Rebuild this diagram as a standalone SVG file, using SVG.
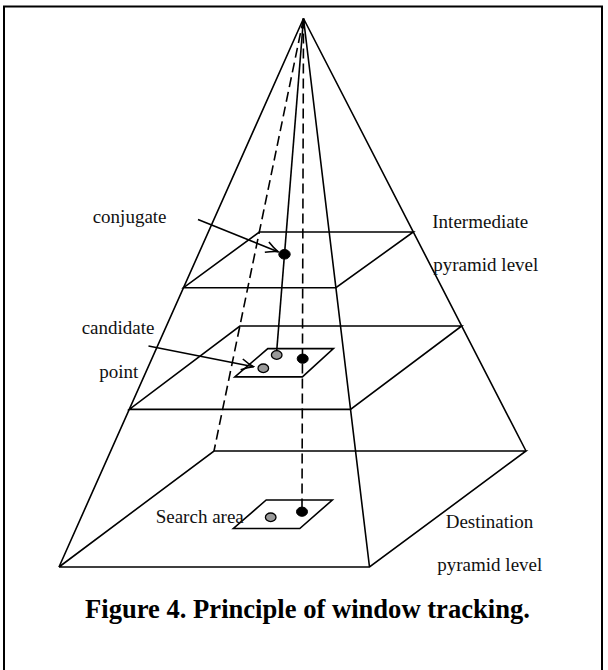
<svg xmlns="http://www.w3.org/2000/svg" width="608" height="670" viewBox="0 0 608 670">
<style>
.ln{fill:none;stroke:#000;stroke-width:1.6;stroke-linejoin:miter}
.dash{fill:none;stroke:#000;stroke-width:1.6;stroke-dasharray:10 5}
.txt{font-family:"Liberation Serif","Times New Roman",serif;font-size:19px;fill:#111}
.ttl{font-family:"Liberation Serif","Times New Roman",serif;font-size:26.6px;font-weight:bold;fill:#000}
.blk{fill:#000;stroke:#000;stroke-width:1}
.gry{fill:#999;stroke:#000;stroke-width:1.3}
.arr{fill:none;stroke:#000;stroke-width:1.6}
</style>
<defs>
<marker id="ah" viewBox="-14 -7 15 14" refX="0" refY="0" markerWidth="15" markerHeight="14" markerUnits="userSpaceOnUse" orient="auto">
<path d="M-12,-5.5 Q-5,-1.5 0,0 Q-5,1.5 -12,5.5" fill="none" stroke="#000" stroke-width="1.6"/>
</marker>
</defs>
<rect width="608" height="670" fill="#fff"/>
<path id="frame" d="M4,670 V6.5 H602 V670" fill="none" stroke="#000" stroke-width="2"/>
<g id="pyramid">
<path class="ln" d="M303.5,18.5 L59,567 M303.5,18.5 L369.5,567 M303.5,18.5 L526,451"/>
<path class="dash" d="M303.5,18.5 L214,451"/>
<path class="ln" d="M59,567 H369.5 L526,451 H214 L59,567"/>
</g>
<g id="level1">
<path class="ln" d="M183.6,287.7 H335.9 L413.3,232 H259.3 Z"/>
</g>
<g id="level2">
<path class="ln" d="M129.3,409.4 H350.5 L461.7,326 H239.9 Z"/>
</g>
<g id="connectors">
<path class="ln" d="M303.5,18.5 L276.7,351"/>
<path class="dash" d="M303.5,18.5 L302,507"/>
<path class="arr" d="M198,219.5 L278,251.7" marker-end="url(#ah)"/>
<path class="arr" d="M148.5,346 L253.5,366.7" marker-end="url(#ah)"/>
</g>
<g id="window2">
<path class="ln" d="M267.8,348.6 H333.4 L302.4,376.9 H234.8 Z"/>
<ellipse class="gry" cx="276.7" cy="355" rx="5.3" ry="4.3"/>
<ellipse class="gry" cx="263.3" cy="368.3" rx="5.3" ry="4.3"/>
<ellipse class="blk" cx="302.7" cy="358.7" rx="5.5" ry="4.6"/>
</g>
<g id="conjugate-point">
<ellipse class="blk" cx="284.5" cy="254.3" rx="5.7" ry="4.8"/>
</g>
<g id="search-area">
<path class="ln" d="M266.2,500 H332.3 L299.8,528.5 H233.4 Z"/>
<ellipse class="gry" cx="270.7" cy="517.3" rx="5.3" ry="4.3"/>
<ellipse class="blk" cx="302" cy="511.7" rx="5.5" ry="4.6"/>
</g>
<g id="labels">
<text class="txt" x="92.7" y="223.3">conjugate</text>
<text class="txt" x="81.7" y="334">candidate</text>
<text class="txt" x="99.3" y="378.3">point</text>
<text class="txt" x="155.7" y="523.3">Search area</text>
<text class="txt" x="432.3" y="227.7">Intermediate</text>
<text class="txt" x="433.3" y="271">pyramid level</text>
<text class="txt" x="445.7" y="527.7">Destination</text>
<text class="txt" x="437.3" y="571">pyramid level</text>
<text class="ttl" x="85" y="618.3">Figure 4. Principle of window tracking.</text>
</g>
</svg>
